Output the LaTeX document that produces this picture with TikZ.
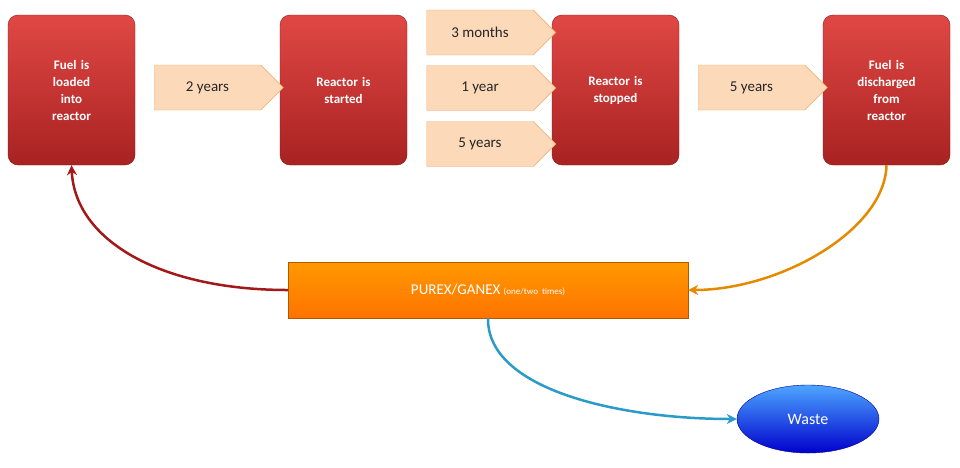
\documentclass[tikz,border=0pt]{standalone}
\usepackage{fontspec}
\setmainfont{Carlito}
\usetikzlibrary{shapes.arrows,shapes.geometric,arrows.meta}
\definecolor{redtop}{HTML}{E04844}
\definecolor{redbot}{HTML}{A82222}
\definecolor{peach}{HTML}{FCD9B8}
\definecolor{peachline}{HTML}{F2A766}
\tikzset{
 redbox/.style={draw=redbot!80!black,rounded corners=10pt,top color=redtop,bottom color=redbot,minimum width=127pt,minimum height=150pt,text width=110pt,align=center,text=white,font=\bfseries\fontsize{13}{17}\selectfont},
 timearrow/.style={single arrow,draw=peachline,fill=peach,minimum height=129pt,minimum width=45pt,single arrow head extend=0pt,single arrow tip angle=90,inner sep=2pt,font=\fontsize{15}{17}\selectfont,text=black!85},
 conn/.style={line width=2.5pt,-{Stealth[length=10pt,width=10pt]}}
}
\begin{document}
\begin{tikzpicture}[x=1pt,y=-1pt]
\useasboundingbox (0,0) rectangle (960,467);
\node[redbox] (b1) at (71.5,90) {Fuel is\\loaded\\into\\reactor};
\node[redbox] (b2) at (343.5,90) {Reactor is\\started};
\node[redbox] (b3) at (615.5,90) {Reactor is\\stopped};
\node[redbox] (b4) at (886.5,90) {Fuel is\\discharged\\from\\reactor};
\node[timearrow] (a1) at (207.5,87.5) {2 years\hspace{12pt}};
\node[timearrow] (a2) at (480,32.5) {3 months\hspace{12pt}};
\node[timearrow] (a3) at (480,88) {1 year\hspace{12pt}};
\node[timearrow] (a4) at (480,144) {5 years\hspace{12pt}};
\node[timearrow] (a5) at (751.5,87.5) {5 years\hspace{12pt}};
\node[draw=orange!70!black,top color=orange!80!yellow,bottom color=orange!90!red,minimum width=400pt,minimum height=56pt,text=white,font=\fontsize{15}{17}\selectfont] (p) at (488,290) {PUREX/GANEX \fontsize{9}{11}\selectfont(one/two\ \ times)};
\node[ellipse,draw=blue!60!black,top color=blue!50!cyan!70,bottom color=blue!80!black,minimum width=142pt,minimum height=68pt,text=white,font=\fontsize{16}{18}\selectfont] (w) at (808,419) {Waste};
\draw[conn,color=red!60!black!90] (p.west) .. controls (160,290) and (75,240) .. (b1.south);
\draw[conn,color=orange!80!yellow!90!black] (b4.south) .. controls (885,230) and (780,290) .. (p.east);
\draw[conn,color=cyan!60!teal] (p.south) .. controls (487,390) and (620,419) .. (w.west);
\end{tikzpicture}
\end{document}
